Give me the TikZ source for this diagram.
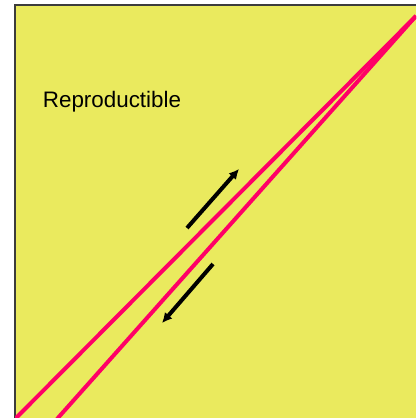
\documentclass[tikz,border=0pt]{standalone}
\usepackage{fontspec}
\setmainfont{Liberation Sans}
\usepackage{xcolor}
\usetikzlibrary{arrows.meta, positioning}
\definecolor{padyellow}{RGB}{234,234,94}
\definecolor{tracepink}{RGB}{255,0,102}
\definecolor{frameline}{RGB}{60,60,60}

\begin{document}
\begin{tikzpicture}[
    x=1pt, y=1pt,
    font=\fontsize{22.4}{26}\selectfont,
    trace/.style={draw=tracepink, line width=4pt},
    move/.style={-{Latex[length=10pt,width=10pt]}, line width=4pt, black},
    frame/.style={draw=frameline, line width=1.5pt}
]
\useasboundingbox (0,0) rectangle (416,418);

\fill[padyellow] (15,0) rectangle (416,413);
\draw[frame] (15,0) -- (15,413) -- (416,413);

\node (label) at (112,316) {Reproductible};

\coordinate (apex) at (416,402);
\coordinate (footA) at (15,-1);
\coordinate (footB) at (57,-1);

\begin{scope}
  \clip (15,0) rectangle (416,413);
  \draw[trace] (footA) -- (apex);
  \draw[trace] (footB) -- (apex);
\end{scope}

\coordinate (upS) at (187,190);
\coordinate (upE) at (239,249);
\coordinate (dnS) at (213,154);
\coordinate (dnE) at (162,95);

\draw[move] (upS) -- (upE);
\draw[move] (dnS) -- (dnE);

\end{tikzpicture}
\end{document}
